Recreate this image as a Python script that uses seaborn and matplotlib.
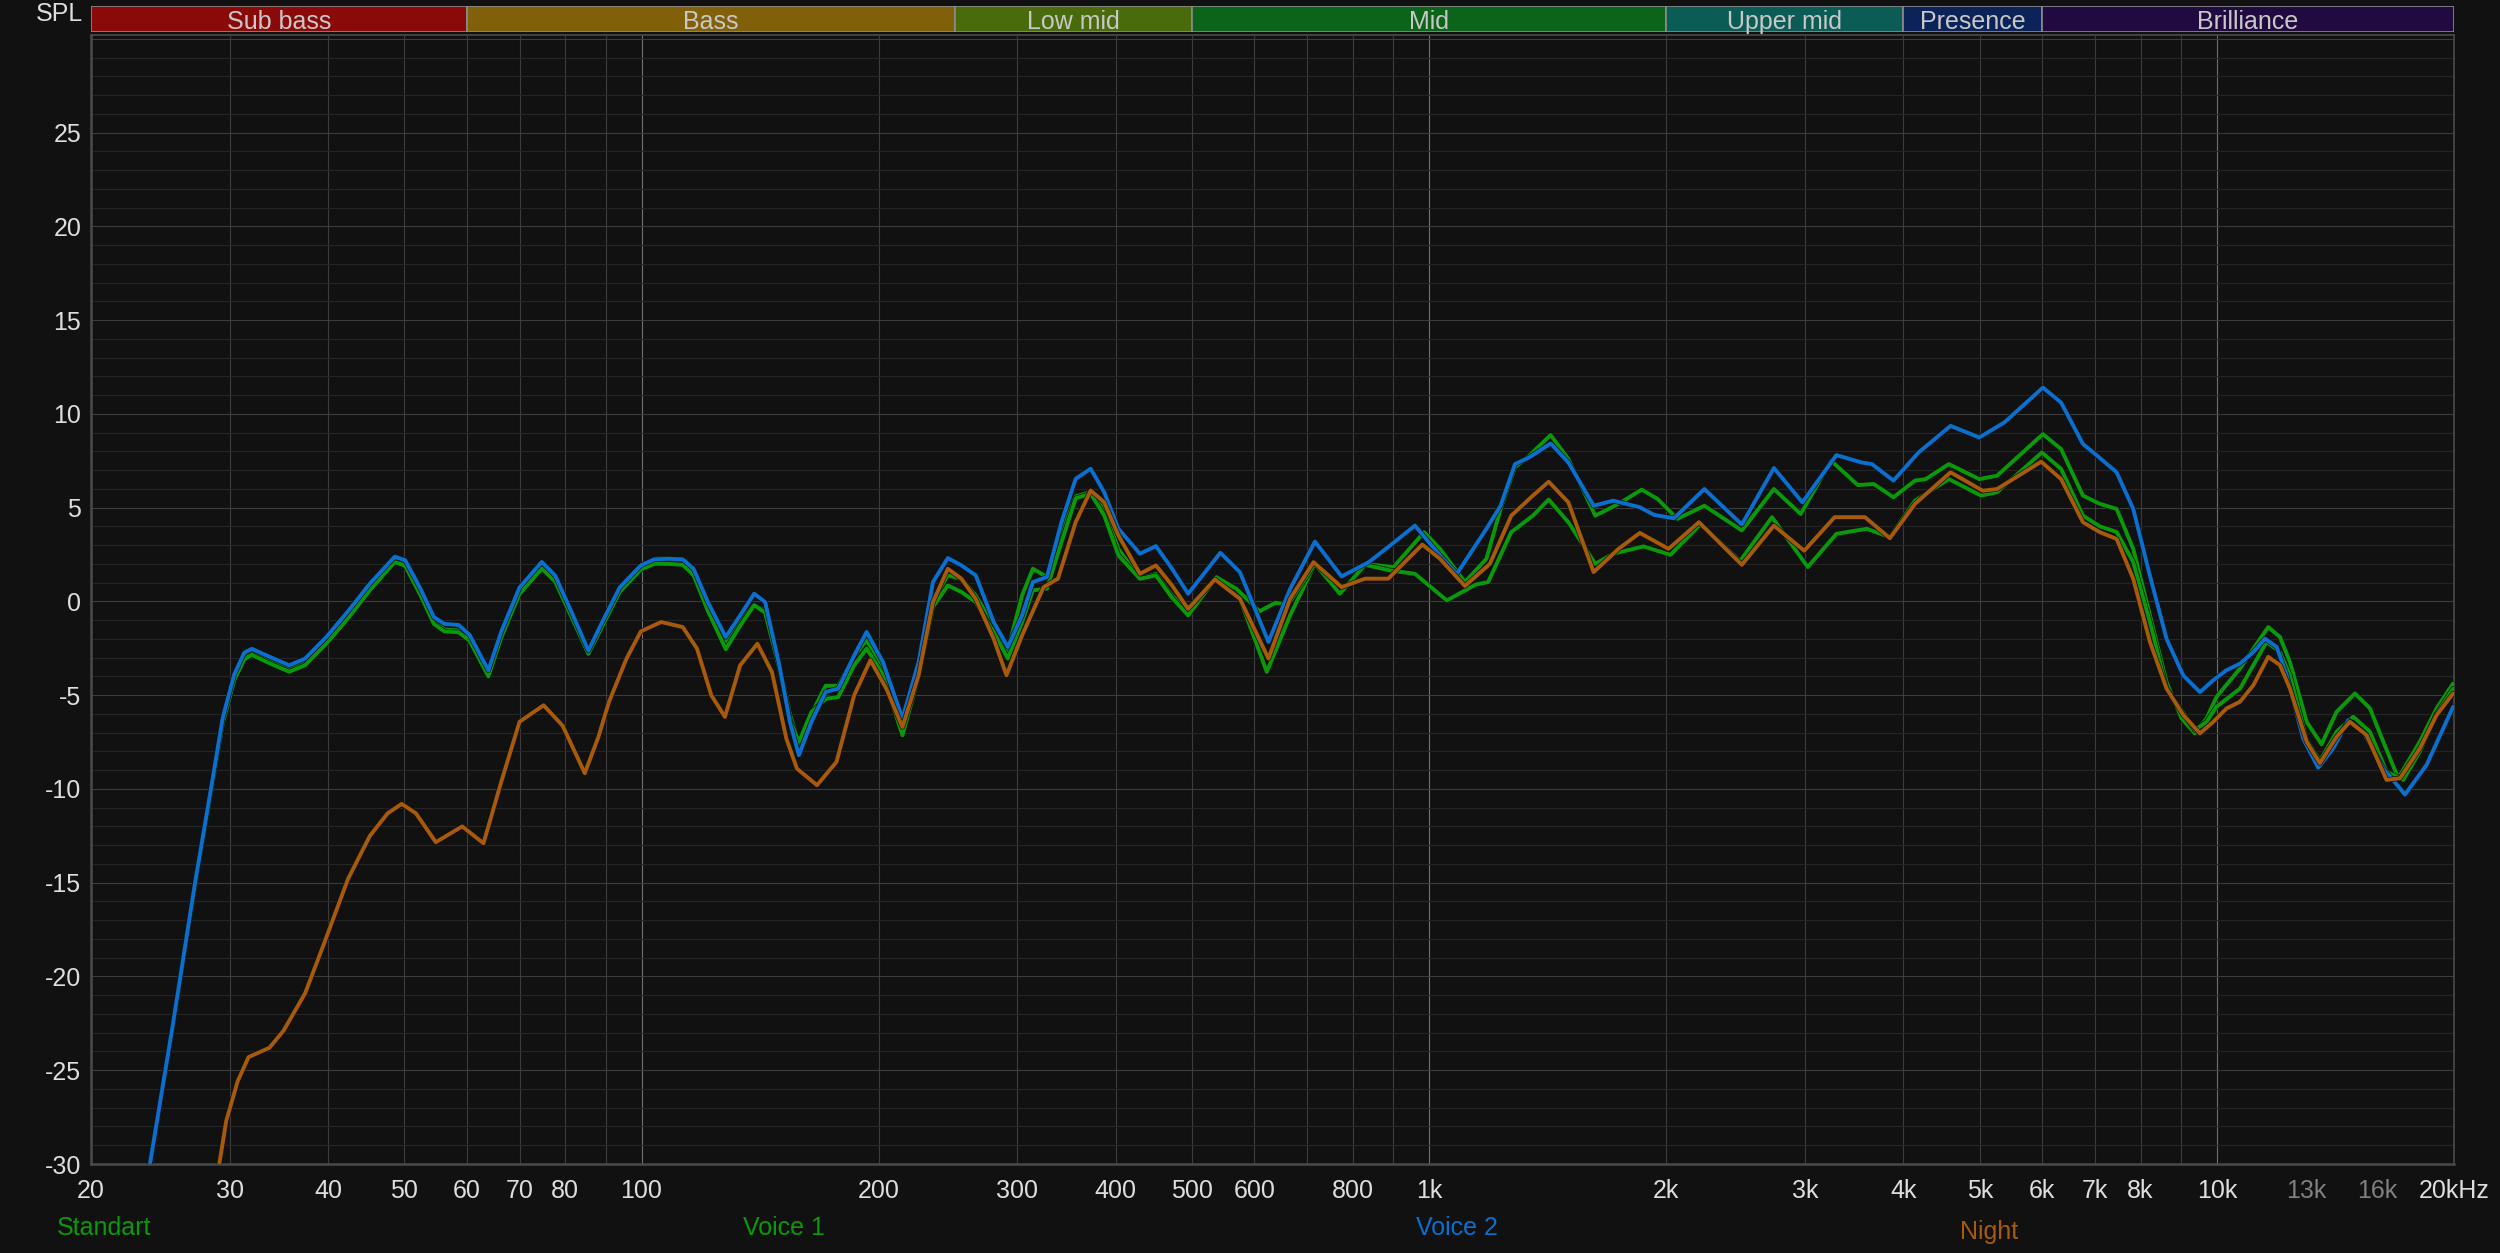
import matplotlib
matplotlib.use("Agg")
import matplotlib.pyplot as plt
import matplotlib.patheffects as pe
from matplotlib.ticker import NullFormatter, NullLocator
import seaborn as sns

BG = "#111111"

# frequency bands shown in the strip above the plot
band_names = ["Sub bass", "Bass", "Low mid", "Mid", "Upper mid", "Presence", "Brilliance"]
band_edges = [20, 60, 250, 500, 2000, 4000, 6000, 20000]
band_colors = ["#8a0a0a", "#806109", "#4a6b0b", "#0b6419", "#0a5c55", "#0b2358", "#210a3f"]

x_ticks = [20, 30, 40, 50, 60, 70, 80, 100, 200, 300, 400, 500, 600, 800,
           1000, 2000, 3000, 4000, 5000, 6000, 7000, 8000, 10000, 13000, 16000, 20000]
x_labels = ["20", "30", "40", "50", "60", "70", "80", "100", "200", "300", "400", "500", "600", "800",
            "1k", "2k", "3k", "4k", "5k", "6k", "7k", "8k", "10k", "13k", "16k", "20kHz"]
y_ticks = [-30, -25, -20, -15, -10, -5, 0, 5, 10, 15, 20, 25]

series_names = ["Standart", "Voice 1", "Voice 2", "Night"]
series_colors = ["#0a990a", "#0a990a", "#0b6fd0", "#a85a0c"]

std_freq = [23.76, 25.4, 27.1, 28.4, 29.4, 30.4, 31.3, 32.0, 33.7, 35.7, 37.4, 39.8, 42.4, 45.2, 48.6,
            50.1, 52.3, 54.5, 56.2, 58.6, 60.5, 63.9, 66.4, 70.0, 74.7, 77.7, 81.0, 85.6, 89.0, 93.8,
            99.8, 103.8, 108.2, 112.8, 116.4, 121.4, 127.9, 133.4, 139.0, 143.5, 149.6, 154.3, 158.4,
            164.3, 171.3, 177.7, 186.2, 193.1, 202.5, 214.4, 224.8, 234.4, 244.8, 254.7, 265.6, 279.9,
            291.7, 304.2, 313.9, 327.1, 341.3, 355.8, 371.7, 386.6, 403.1, 429.3, 449.8, 471.5, 494.2,
            537, 575, 622, 666, 716, 770, 829, 901, 985, 1032, 1110, 1182, 1232, 1285, 1340, 1426,
            1502, 1625, 1739, 1861, 1950, 2066, 2235, 2494, 2739, 2962, 3238, 3501, 3667, 3885, 4137,
            4269, 4568, 4993, 5259, 6013, 6342, 6760, 7102, 7460, 7831, 8222, 8632, 9020, 9377, 9703,
            9989, 10700, 11125, 11620, 12025, 12380, 13000, 13580, 14190, 14970, 15640, 16265, 16990,
            18100, 19010, 19950]
std_db = [-30.0, -22.5, -15.0, -10.1, -6.4, -4.1, -2.95, -2.74, -3.15, -3.62, -3.25, -2.1, -0.75, 0.75, 2.25,
          2.05, 0.55, -1.05, -1.5, -1.55, -2.0, -3.94, -1.8, 0.5, 1.85, 1.15, -0.5, -2.74, -1.3, 0.6,
          1.9, 2.27, 2.3, 2.2, 1.6, -0.3, -2.2, -1.1, -0.2, -0.5, -3.4, -6.0, -7.6,
          -6.0, -4.5, -4.5, -2.9, -2.08, -3.6, -7.0, -3.9, 0.0, 1.39, 1.2, 0.32, -1.28,
          -2.6, 0.32, 1.74, 1.3, 3.7, 5.6, 5.83, 4.94, 2.8, 1.21, 1.47, 0.32, -0.5,
          1.29, 0.14, -3.76, -0.74, 2.0, 0.41, 2.0, 1.83, 3.69, 2.8, 1.03, 2.27, 4.93, 7.15, 7.77, 8.87,
          7.59, 4.57, 5.2, 5.96, 5.46, 4.4, 5.1, 3.78, 5.99, 4.66, 7.5, 6.2, 6.26, 5.55, 6.44,
          6.52, 7.32, 6.52, 6.7, 8.92, 8.12, 5.64, 5.2, 4.93, 2.8, -0.74, -4.3, -6.24, -7.04, -6.24,
          -5.09, -3.58, -2.52, -1.37, -1.9, -3.23, -6.42, -7.62, -5.89, -4.91, -5.7, -7.48, -9.43,
          -7.48, -5.7, -4.38]

v1_freq = [23.76, 25.4, 27.1, 28.4, 29.4, 30.4, 31.3, 32.0, 33.7, 35.7, 37.4, 39.8, 42.4, 45.2, 48.6,
           50.1, 52.3, 54.5, 56.2, 58.6, 60.5, 63.9, 66.4, 70.0, 74.7, 77.7, 81.0, 85.6, 89.0, 93.8,
           99.8, 103.8, 108.2, 112.8, 116.4, 121.4, 127.9, 133.4, 139.0, 143.5, 149.6, 154.3, 158.4,
           164.3, 171.3, 177.7, 186.2, 193.1, 202.5, 214.4, 224.8, 234.4, 244.8, 254.7, 265.6, 279.9,
           291.7, 304.2, 313.9, 327.1, 341.3, 355.8, 371.7, 386.6, 403.1, 429.3, 449.8, 471.5, 494.2,
           537, 569, 609, 638, 662, 716, 770, 829, 892, 959, 1053, 1145, 1188, 1271, 1354, 1418,
           1502, 1625, 1712, 1871, 2024, 2212, 2481, 2724, 3024, 3288, 3593, 3845, 4137, 4568, 5018,
           5259, 5995, 6342, 6760, 7102, 7460, 7831, 8222, 8632, 9377, 9703, 9989, 10700, 11125,
           11567, 12025, 12380, 13000, 13513, 14190, 14895, 15640, 16420, 17240, 18100, 19010, 19950]
v1_db = [-30.0, -22.7, -15.2, -10.2, -6.5, -4.2, -3.1, -2.85, -3.3, -3.75, -3.4, -2.25, -0.9, 0.6, 2.1,
         1.9, 0.4, -1.2, -1.6, -1.65, -2.1, -4.0, -1.9, 0.4, 1.75, 1.05, -0.6, -2.8, -1.4, 0.5,
         1.7, 2.0, 2.0, 1.95, 1.4, -0.5, -2.55, -1.3, -0.2, -0.6, -3.6, -6.3, -7.5,
         -5.9, -5.2, -5.1, -3.4, -2.52, -3.9, -7.14, -4.0, -0.3, 0.85, 0.5, -0.04, -1.63,
         -3.05, -1.1, 0.59, 0.68, 3.16, 5.5, 5.74, 4.6, 2.45, 1.2, 1.39, 0.2, -0.75,
         1.29, 0.67, -0.53, -0.07, -0.18, 2.0, 0.41, 1.95, 1.65, 1.47, 0.05, 0.89, 1.03, 3.69, 4.57, 5.43,
         4.22, 2.0, 2.54, 2.93, 2.48, 4.13, 2.15, 4.49, 1.83, 3.6, 3.87, 3.42, 5.37, 6.52, 5.64,
         5.82, 7.94, 7.06, 4.57, 4.0, 3.7, 2.09, -1.1, -4.65, -6.86, -6.42, -5.62, -4.65, -3.4,
         -2.16, -2.7, -3.94, -7.39, -8.51, -6.95, -6.15, -6.95, -9.08, -9.52, -8.0, -5.98, -4.65]

v2_freq = [23.76, 25.4, 27.1, 28.4, 29.4, 30.4, 31.3, 32.0, 33.7, 35.7, 37.4, 39.8, 42.4, 45.2, 48.6,
           50.1, 52.3, 54.5, 56.2, 58.6, 60.5, 63.9, 66.4, 70.0, 74.7, 77.7, 81.0, 85.6, 89.0, 93.8,
           99.8, 103.8, 108.2, 112.8, 116.4, 121.4, 127.9, 133.4, 139.0, 143.5, 149.6, 154.3, 158.4,
           164.3, 171.3, 177.7, 186.2, 193.1, 202.5, 214.4, 224.8, 234.4, 244.8, 254.7, 265.6, 279.9,
           291.7, 304.2, 313.9, 327.1, 341.3, 355.8, 371.7, 386.6, 403.1, 429.3, 449.8, 471.5, 494.2,
           543, 575, 625, 666, 716, 774, 838, 892, 959, 1032, 1084, 1182, 1232, 1285, 1340, 1426,
           1502, 1617, 1712, 1851, 1930, 2045, 2235, 2494, 2739, 2977, 3288, 3537, 3648, 3885, 4181,
           4591, 4993, 5372, 6013, 6342, 6760, 7046, 7460, 7831, 8222, 8632, 9064, 9518, 9896, 10285,
           10700, 11125, 11508, 11910, 12265, 12870, 13446, 14050, 14680, 15340, 16265, 17330, 18460,
           19950]
v2_db = [-30.0, -22.6, -15.05, -10.0, -6.2, -3.9, -2.74, -2.53, -2.95, -3.41, -3.05, -1.9, -0.53, 0.95, 2.38,
         2.2, 0.74, -0.84, -1.2, -1.26, -1.79, -3.68, -1.58, 0.74, 2.1, 1.37, -0.32, -2.63, -1.16, 0.74,
         1.92, 2.24, 2.27, 2.24, 1.74, -0.04, -1.9, -0.75, 0.41, -0.04, -3.41, -6.43, -8.2,
         -6.43, -4.83, -4.65, -2.88, -1.63, -3.23, -6.25, -3.23, 1.03, 2.31, 1.92, 1.39, -1.1,
         -2.43, -0.75, 1.03, 1.3, 4.23, 6.54, 7.07, 5.83, 3.87, 2.54, 2.95, 1.74, 0.41,
         2.59, 1.56, -2.16, 0.67, 3.19, 1.33, 2.09, 2.98, 4.04, 2.45, 1.47, 3.87, 5.1, 7.32, 7.68, 8.42,
         7.41, 5.1, 5.37, 5.02, 4.61, 4.43, 5.99, 4.1, 7.11, 5.28, 7.8, 7.41, 7.32, 6.44, 7.94,
         9.36, 8.74, 9.54, 11.4, 10.6, 8.39, 7.77, 6.88, 4.93, 1.37, -2.0, -3.95, -4.84, -4.2, -3.67,
         -3.32, -2.7, -1.99, -2.43, -3.95, -7.32, -8.87, -7.84, -6.33, -6.95, -8.9, -10.3, -8.72,
         -5.62]

night_freq = [29.1, 29.7, 30.7, 31.7, 33.7, 35.1, 37.4, 39.4, 42.4, 45.2, 47.6, 49.6, 51.7, 54.8, 59.2,
              63.0, 66.4, 70.0, 75.1, 79.4, 84.7, 88.1, 90.9, 95.7, 99.8, 105.9, 112.8, 117.6, 122.6,
              127.6, 133.4, 140.3, 146.4, 152.7, 157.5, 167.0, 176.8, 186.2, 195.2, 204.5, 214.4,
              224.8, 234.4, 244.8, 254.7, 265.6, 279.9, 290.6, 304.2, 323.9, 337.8, 355.8, 371.7,
              386.6, 403.1, 429.3, 449.8, 471.5, 494.2, 534.5, 575, 625, 666, 713, 774, 829, 887, 980,
              1032, 1110, 1194, 1271, 1354, 1418, 1502, 1617, 1739, 1851, 2013, 2200, 2494, 2739, 2993,
              3271, 3574, 3845, 4137, 4591, 5044, 5259, 5983, 6342, 6760, 7102, 7460, 7831, 8222, 8632,
              9064, 9518, 9896, 10285, 10700, 11125, 11620, 12025, 12380, 13000, 13513, 14190, 14750,
              15490, 16420, 17080, 18100, 19010, 19950]
night_db = [-30.0, -27.7, -25.6, -24.3, -23.8, -22.9, -20.9, -18.4, -14.8, -12.5, -11.3, -10.8, -11.3, -12.84, -12.0,
            -12.9, -9.58, -6.42, -5.54, -6.63, -9.16, -7.26, -5.37, -3.05, -1.6, -1.1, -1.37, -2.52, -5.0,
            -6.16, -3.41, -2.26, -3.77, -7.32, -8.92, -9.8, -8.56, -5.0, -3.14, -4.65, -6.7,
            -3.94, -0.04, 1.74, 1.21, 0.14, -1.99, -3.94, -1.81, 0.76, 1.21, 4.23, 5.91,
            5.29, 3.52, 1.47, 1.92, 0.85, -0.4, 1.17, 0.14, -3.05, 0.14, 2.09, 0.76, 1.21, 1.21, 3.03,
            2.27, 0.82, 2.0, 4.57, 5.64, 6.38, 5.28, 1.56, 2.8, 3.65, 2.8, 4.22, 1.95, 4.04, 2.7,
            4.49, 4.49, 3.37, 5.2, 6.88, 5.9, 5.99, 7.45, 6.52, 4.22, 3.69, 3.33, 1.2, -2.16, -4.65,
            -6.06, -7.04, -6.42, -5.71, -5.35, -4.47, -2.96, -3.4, -4.65, -7.48, -8.63, -7.22, -6.42,
            -7.13, -9.52, -9.43, -7.84, -6.06, -4.91]

series_freq = [std_freq, v1_freq, v2_freq, night_freq]
series_db = [std_db, v1_db, v2_db, night_db]

sns.set_theme(style="dark", rc={"axes.facecolor": BG, "figure.facecolor": BG,
                                "savefig.facecolor": BG})
plt.rcParams["font.family"] = ["Liberation Sans Narrow", "Liberation Sans", "DejaVu Sans"]

W, H = 2500, 1253
left, right, top, bottom = 91, 2454, 35, 1164

fig = plt.figure(figsize=(W / 100, H / 100), dpi=100)
ax = fig.add_axes([left / W, 1 - bottom / H, (right - left) / W, (bottom - top) / H])
ax.set_xscale("log")
ax.set_xlim(20, 20000)
ax.set_ylim(-30, 30.2)

# grid
for dec in (10, 100, 1000, 10000):
    for m in range(1, 10):
        f = m * dec
        if f < 20 or f > 20000:
            continue
        if f in (100, 1000, 10000):
            c = "#707070"
        elif f > 10000 and f not in (13000, 16000, 20000):
            c = "#2b2b2b"
        else:
            c = "#3c3c3c"
        ax.axvline(f, color=c, lw=0.8, zorder=0)
for v in range(-29, 31):
    ax.axhline(v, color="#3c3c3c" if v % 5 == 0 else "#252525", lw=0.8, zorder=0)

for freq, db, col in zip(series_freq, series_db, series_colors):
    sns.lineplot(x=freq, y=db, ax=ax, color=col, linewidth=2.8, zorder=3,
                 path_effects=[pe.Stroke(linewidth=3.8, foreground=BG), pe.Normal()])

ax.set_xlabel("")
ax.set_ylabel("")
ax.set_xticks(x_ticks)
ax.set_xticklabels(x_labels)
ax.xaxis.set_minor_locator(NullLocator())
ax.xaxis.set_minor_formatter(NullFormatter())
ax.tick_params(axis="x", length=0, pad=11, labelsize=18, labelcolor="#dedede")
for lbl in ax.get_xticklabels():
    if lbl.get_text() in ("13k", "16k"):
        lbl.set_color("#808080")
ax.set_yticks(y_ticks)
ax.set_yticklabels([str(v) for v in y_ticks])
ax.tick_params(axis="y", length=0, pad=7, labelsize=18, labelcolor="#dedede")
for lbl in ax.get_yticklabels():
    lbl.set_fontfamily(["Liberation Sans", "DejaVu Sans"])
for side, sp in ax.spines.items():
    sp.set_visible(True)
    sp.set_color("#4a4a4a")
    sp.set_linewidth(1.8 if side in ("left", "bottom") else 1.2)

# band strip
bax = fig.add_axes([left / W, 1 - 32 / H, (right - left) / W, 26 / H])
bax.set_xscale("log")
bax.set_xlim(20, 20000)
bax.set_ylim(0, 1)
bax.axis("off")
for i, name in enumerate(band_names):
    lo, hi = band_edges[i], band_edges[i + 1]
    bax.axvspan(lo, hi, facecolor=band_colors[i], edgecolor="#8c8c8c", lw=1.2)
    bax.text((lo * hi) ** 0.5, 0.4, name, ha="center", va="center", fontsize=18, color="#c8c8c8")

fig.text(83 / W, 1 - 14 / H, "SPL", ha="right", va="center", fontsize=18, color="#dedede",
         family=["Liberation Sans", "DejaVu Sans"])

legend_x = [57, 743, 1416, 1960]
legend_y = [1228, 1228, 1228, 1232]
for name, col, lx, ly in zip(series_names, series_colors, legend_x, legend_y):
    fig.text(lx / W, 1 - ly / H, name, ha="left", va="center", fontsize=18, color=col)

fig.savefig("out.png", dpi=100, facecolor=BG)
